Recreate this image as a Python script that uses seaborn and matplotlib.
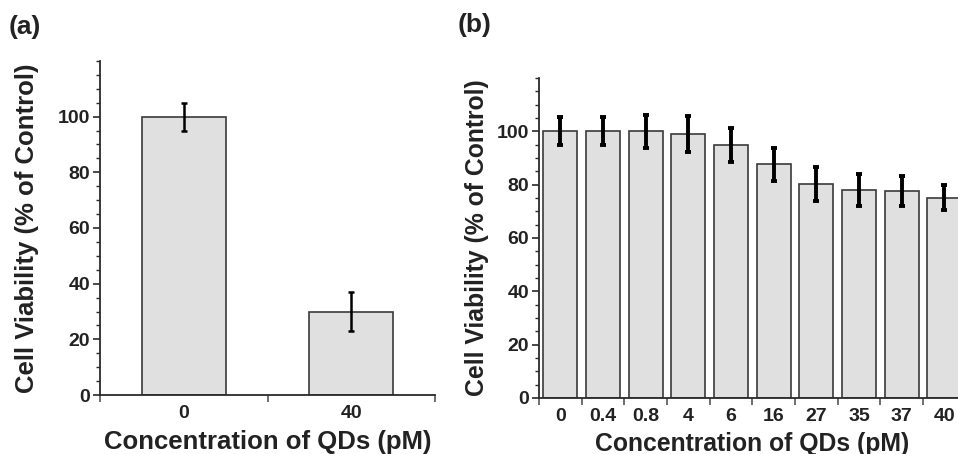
import matplotlib
matplotlib.use("Agg")
import matplotlib.pyplot as plt
import seaborn as sns
import pandas as pd
from matplotlib.ticker import FixedLocator

# ---- data ----
conc_a = ["0", "40"]
viab_a = [100, 30]
err_a = [5, 7]

conc_b = ["0", "0.4", "0.8", "4", "6", "16", "27", "35", "37", "40"]
viab_b = [100, 100, 100, 99, 95, 87.6, 80.1, 78.1, 77.5, 75.1]
err_b = [5.3, 5.3, 6.2, 6.8, 6.4, 6.3, 6.4, 6.0, 5.6, 4.7]

xlabel = "Concentration of QDs (pM)"
ylabel = "Cell Viability (% of Control)"

sns.set_theme(style="ticks")
plt.rcParams['font.family'] = ['Liberation Sans', 'DejaVu Sans']
plt.rcParams['font.weight'] = 'bold'

fig = plt.figure(figsize=(9.58, 4.54), dpi=100)
W, H = 958, 454

def add_ax(l, r, b, t):
    return fig.add_axes([l / W, (H - b) / H, (r - l) / W, (b - t) / H])

ax_a = add_ax(100, 435, 395, 61)
ax_b = add_ax(539, 965.6, 398, 78)

fill = "#e0e0e0"
edge = "#3a3a3a"
axc = "#2a2a2a"

def draw(ax, cats, vals, errs, width, elw, cap, fs_lab, label_x):
    df = pd.DataFrame({"c": cats, "v": vals})
    sns.barplot(data=df, x="c", y="v", order=cats, color=fill, width=width,
                edgecolor=edge, linewidth=1.2, saturation=1, errorbar=None, ax=ax)
    ax.errorbar(range(len(cats)), vals, yerr=errs, fmt="none", ecolor="black",
                elinewidth=elw, capsize=cap, capthick=elw, zorder=5)
    n = len(cats)
    ax.set_xlim(-0.5, n - 0.5)
    ax.set_ylim(0, 120)
    for s in ["top", "right"]:
        ax.spines[s].set_visible(False)
    for s in ["left", "bottom"]:
        ax.spines[s].set_color(axc)
        ax.spines[s].set_linewidth(1.3)
    ax.set_yticks([0, 20, 40, 60, 80, 100])
    ax.set_yticklabels(["0", "20", "40", "60", "80", "100"])
    ax.yaxis.set_minor_locator(FixedLocator([v for v in range(5, 121, 5) if v % 20 != 0 or v == 120]))
    ax.tick_params(axis="y", which="major", direction="out", length=5, width=1.2,
                   color=axc, labelsize=14, pad=2, labelcolor="#222222")
    ax.tick_params(axis="y", which="minor", direction="out", length=3, width=1.0, color=axc)
    ax.set_xticks(range(n))
    ax.set_xticklabels(cats)
    ax.xaxis.set_minor_locator(FixedLocator([i - 0.5 for i in range(n + 1)]))
    ax.tick_params(axis="x", which="major", length=0, labelsize=14, pad=7, labelcolor="#222222")
    ax.tick_params(axis="x", which="minor", direction="out", length=5, width=1.2, color="#555555")
    for t in ax.get_xticklabels() + ax.get_yticklabels():
        t.set_fontweight("bold")
    ax.set_xlabel(xlabel, fontsize=fs_lab, fontweight="bold", color="#222222")
    ax.set_ylabel(ylabel, fontsize=fs_lab, fontweight="bold", color="#222222")
    ax.yaxis.set_label_coords(label_x, 0.5)

draw(ax_a, conc_a, viab_a, err_a, 0.5, 1.8, 2, 18.5, -0.182)
draw(ax_b, conc_b, viab_b, err_b, 0.8, 2.8, 2.3, 17.8, -0.117)

ax_a.xaxis.set_label_coords(0.5, -0.105)
ax_b.xaxis.set_label_coords(0.5, -0.105)

fig.text(9 / W, 1 - 15 / H, "(a)", fontsize=19, fontweight="bold", color="#222222", va="top", ha="left")
fig.text(458 / W, 1 - 13 / H, "(b)", fontsize=19, fontweight="bold", color="#222222", va="top", ha="left")

fig.savefig("out.png", dpi=100)
